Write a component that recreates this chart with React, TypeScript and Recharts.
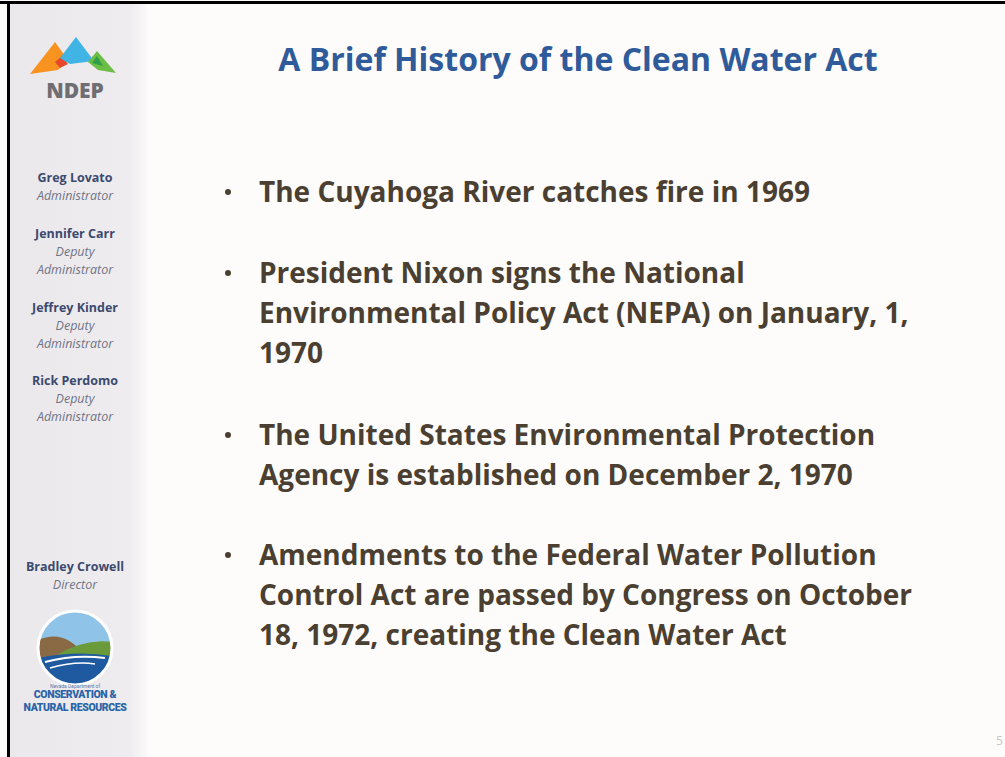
import { Surface, Text, Polygon, Rectangle } from 'recharts';

const TITLE = 'A Brief History of the Clean Water Act';

const bulletLines: string[][] = [
  ['The Cuyahoga River catches fire in 1969'],
  ['President Nixon signs the National', 'Environmental Policy Act (NEPA) on January, 1,', '1970'],
  ['The United States Environmental Protection', 'Agency is established on December 2, 1970'],
  ['Amendments to the Federal Water Pollution', 'Control Act are passed by Congress on October', '18, 1972, creating the Clean Water Act'],
];
const bulletTops = [192, 273, 435, 555];

const staffNames = ['Greg Lovato', 'Jennifer Carr', 'Jeffrey Kinder', 'Rick Perdomo', 'Bradley Crowell'];
const staffRoles: string[][] = [['Administrator'], ['Deputy', 'Administrator'], ['Deputy', 'Administrator'], ['Deputy', 'Administrator'], ['Director']];
const staffTops = [178, 234, 308, 381, 567];

const W = 1005;
const H = 757;
const LINE = 40;
const SIDE_X = 75;

function NdepLogo() {
  return (
    <g>
      <Polygon points={[{ x: 30, y: 74 }, { x: 55, y: 42 }, { x: 68, y: 60 }, { x: 58, y: 70 }]} fill="#f7931e" />
      <Polygon points={[{ x: 55, y: 62 }, { x: 62, y: 56 }, { x: 68, y: 64 }, { x: 60, y: 68 }]} fill="#e8482c" />
      <Polygon points={[{ x: 60, y: 58 }, { x: 76, y: 37 }, { x: 94, y: 61 }, { x: 70, y: 64 }]} fill="#3fb4e5" />
      <Polygon points={[{ x: 88, y: 62 }, { x: 97, y: 51 }, { x: 116, y: 73 }, { x: 98, y: 70 }]} fill="#6cbd45" />
      <Polygon points={[{ x: 92, y: 63 }, { x: 97, y: 56 }, { x: 103, y: 66 }]} fill="#2e9e48" />
      <Text x={SIDE_X} y={91} textAnchor="middle" verticalAnchor="middle" fontFamily="Open Sans" fontWeight={800} fontSize={21} fill="#6e6e73">NDEP</Text>
    </g>
  );
}

function DcnrLogo() {
  const cx = 75;
  const cy = 648;
  const r = 37;
  return (
    <g>
      <defs>
        <clipPath id="dcnr">
          <circle cx={cx} cy={cy} r={r} />
        </clipPath>
      </defs>
      <g clipPath="url(#dcnr)">
        <Rectangle x={cx - r} y={cy - r} width={r * 2} height={r * 2} fill="#8fc3e8" />
        <path d={`M${cx - r} ${cy - 8} Q${cx - 10} ${cy - 20} ${cx + 10} ${cy + 8} L${cx - r} ${cy + 12} Z`} fill="#8a6a45" />
        <path d={`M${cx - 20} ${cy + 8} Q${cx + 10} ${cy - 10} ${cx + r} ${cy - 6} L${cx + r} ${cy + 12} L${cx - 20} ${cy + 12} Z`} fill="#6a9a3a" />
        <path d={`M${cx - r} ${cy + 10} Q${cx} ${cy + 2} ${cx + r} ${cy + 8} L${cx + r} ${cy + r} L${cx - r} ${cy + r} Z`} fill="#1f5aa0" />
        <path d={`M${cx - 30} ${cy + 14} Q${cx} ${cy + 6} ${cx + 30} ${cy + 10}`} stroke="#ffffff" strokeWidth={2} fill="none" />
        <path d={`M${cx - 25} ${cy + 20} Q${cx} ${cy + 13} ${cx + 20} ${cy + 16}`} stroke="#ffffff" strokeWidth={1.5} fill="none" />
      </g>
      <circle cx={cx} cy={cy} r={r} fill="none" stroke="#ffffff" strokeWidth={3} />
      <Text x={cx} y={686} textAnchor="middle" verticalAnchor="middle" fontFamily="Roboto" fontSize={5} fill="#5a7aa8">Nevada Department of</Text>
      <Text x={cx} y={694} textAnchor="middle" verticalAnchor="middle" fontFamily="Roboto" fontWeight={900} fontSize={10.5} letterSpacing={-0.4} fill="#2a64a8">CONSERVATION &amp;</Text>
      <Text x={cx} y={707} textAnchor="middle" verticalAnchor="middle" fontFamily="Roboto" fontWeight={900} fontSize={10.5} letterSpacing={-0.4} fill="#2a64a8">NATURAL RESOURCES</Text>
    </g>
  );
}

export default function App() {
  return (
    <div style={{ position: 'absolute', left: 0, top: 0, width: W, height: H, background: '#ffffff' }}>
      <Surface width={W} height={H}>
        <defs>
          <linearGradient id="side" x1="0" y1="0" x2="1" y2="0">
            <stop offset="0%" stopColor="#ebe8ec" />
            <stop offset="88%" stopColor="#eeecef" />
            <stop offset="100%" stopColor="#fbfafa" />
          </linearGradient>
        </defs>
        <Rectangle x={0} y={0} width={W} height={H} fill="#fdfcfb" />
        <Rectangle x={9} y={3} width={138} height={H} fill="url(#side)" />
        <Rectangle x={0} y={1} width={W} height={3} fill="#000000" />
        <Rectangle x={7} y={1} width={3} height={H} fill="#000000" />

        <NdepLogo />

        {staffNames.map((name, i) => (
          <g key={name}>
            <Text x={SIDE_X} y={staffTops[i]} textAnchor="middle" verticalAnchor="middle" fontFamily="Open Sans" fontWeight={700} fontSize={12.5} fill="#3b4a6e">
              {name}
            </Text>
            {staffRoles[i].map((role, j) => (
              <Text key={j} x={SIDE_X} y={staffTops[i] + 18 * (j + 1)} textAnchor="middle" verticalAnchor="middle" fontFamily="Open Sans" fontStyle="italic" fontSize={12.5} fill="#6f7486">
                {role}
              </Text>
            ))}
          </g>
        ))}

        <DcnrLogo />

        <Text x={578} y={60} textAnchor="middle" verticalAnchor="middle" fontFamily="Open Sans" fontWeight={700} fontSize={32} fill="#2f5b9b">
          {TITLE}
        </Text>

        {bulletLines.map((lines, i) => (
          <g key={i}>
            <circle cx={228} cy={bulletTops[i]} r={3} fill="#4a3f30" />
            {lines.map((line, j) => (
              <Text key={j} x={259} y={bulletTops[i] + LINE * j} verticalAnchor="middle" fontFamily="Open Sans" fontWeight={700} fontSize={28} fill="#4a3f30">
                {line}
              </Text>
            ))}
          </g>
        ))}

        <Text x={996} y={741} verticalAnchor="middle" fontFamily="Open Sans" fontSize={12} fill="#c8c8c8">5</Text>
      </Surface>
    </div>
  );
}
